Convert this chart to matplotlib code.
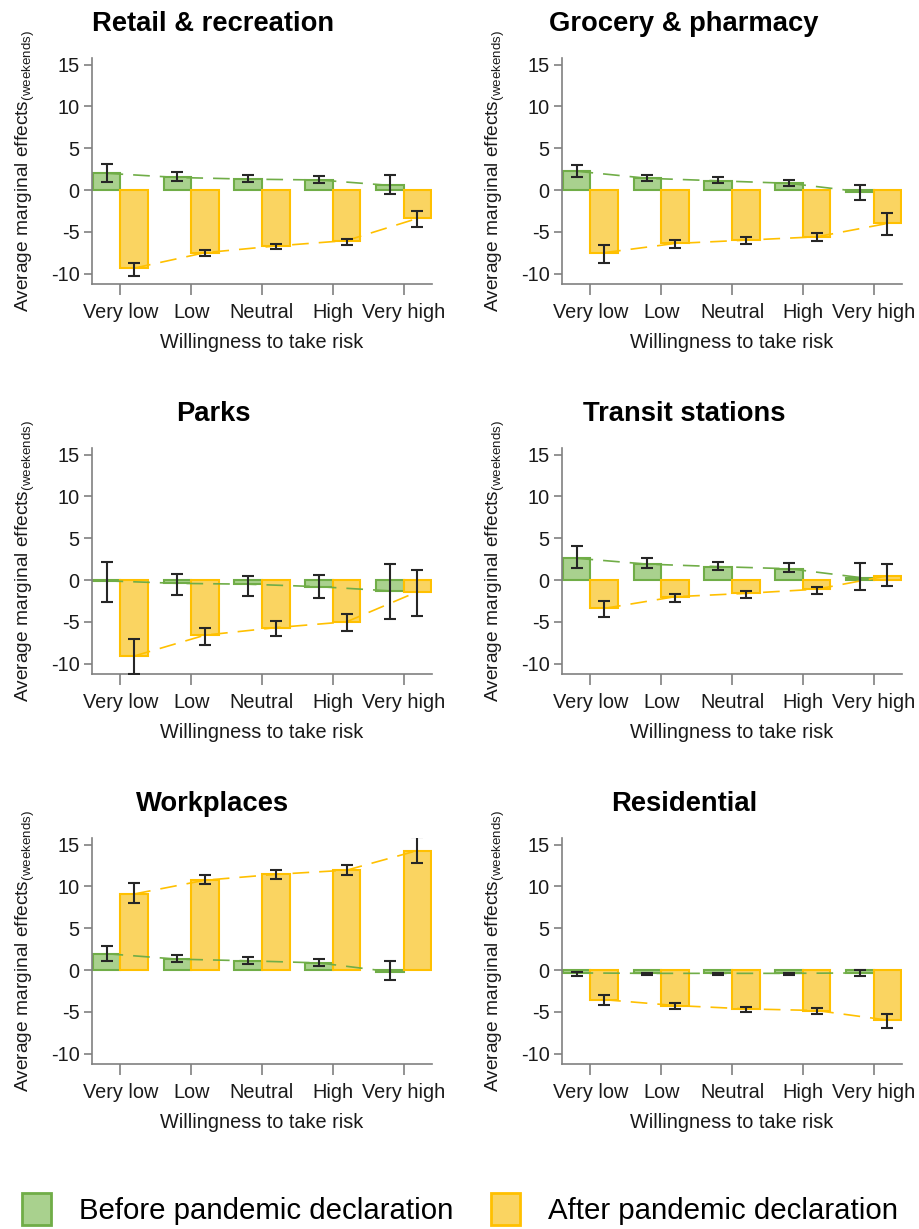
#!/usr/bin/env python3

import numpy as np
import matplotlib
matplotlib.use('Agg')
import matplotlib.pyplot as plt
from matplotlib.patches import Patch

plt.rcParams['font.family'] = ['Liberation Sans', 'DejaVu Sans']
plt.rcParams['mathtext.default'] = 'regular'
plt.rcParams['axes.unicode_minus'] = False

categories = ['Very low', 'Low', 'Neutral', 'High', 'Very high']
titles = ['Retail & recreation', 'Grocery & pharmacy', 'Parks',
          'Transit stations', 'Workplaces', 'Residential']

# before pandemic declaration: estimate, upper CI, lower CI
before_val = [
    [2.0, 1.5, 1.3, 1.2, 0.55],
    [2.25, 1.4, 1.1, 0.8, -0.2],
    [-0.1, -0.4, -0.5, -0.8, -1.3],
    [2.6, 1.9, 1.6, 1.35, 0.3],
    [1.95, 1.3, 1.1, 0.85, -0.2],
    [-0.35, -0.4, -0.4, -0.4, -0.35],
]
before_hi = [
    [3.07, 2.1, 1.8, 1.7, 1.85],
    [3.0, 1.85, 1.5, 1.25, 0.6],
    [2.2, 0.7, 0.5, 0.55, 1.95],
    [4.05, 2.6, 2.2, 2.0, 2.0],
    [2.9, 1.75, 1.5, 1.3, 1.1],
    [-0.2, -0.3, -0.3, -0.3, 0.0],
]
before_lo = [
    [1.0, 1.1, 1.0, 0.85, -0.5],
    [1.6, 1.1, 0.85, 0.5, -1.25],
    [-2.65, -1.8, -1.9, -2.2, -4.7],
    [1.4, 1.4, 1.15, 0.95, -1.2],
    [1.1, 0.9, 0.7, 0.5, -1.15],
    [-0.7, -0.55, -0.55, -0.55, -0.7],
]

# after pandemic declaration
after_val = [
    [-9.35, -7.5, -6.7, -6.05, -3.4],
    [-7.5, -6.4, -6.0, -5.6, -4.0],
    [-9.1, -6.6, -5.7, -5.0, -1.4],
    [-3.4, -2.0, -1.6, -1.1, 0.5],
    [9.1, 10.75, 11.45, 11.95, 14.3],
    [-3.55, -4.25, -4.65, -4.85, -6.0],
]
after_hi = [
    [-8.75, -7.2, -6.5, -5.85, -2.5],
    [-6.55, -6.0, -5.65, -5.2, -2.75],
    [-7.1, -5.8, -4.95, -4.05, 1.2],
    [-2.5, -1.7, -1.3, -0.85, 1.9],
    [10.4, 11.4, 11.95, 12.6, 15.9],
    [-3.0, -4.0, -4.4, -4.6, -5.25],
]
after_lo = [
    [-10.3, -7.9, -7.1, -6.55, -4.45],
    [-8.75, -7.0, -6.5, -6.15, -5.4],
    [-11.3, -7.75, -6.75, -6.05, -4.25],
    [-4.4, -2.6, -2.1, -1.7, -0.7],
    [8.0, 10.25, 10.95, 11.35, 12.85],
    [-4.2, -4.7, -5.0, -5.25, -6.9],
]

green_fill, green_edge = '#a9d18e', '#70ad47'
orange_fill, orange_edge = '#fad461', '#ffc000'
text_col = '#1a1a1a'
spine_col = '#808080'

W, H = 920, 1229
fig = plt.figure(figsize=(W / 100, H / 100), dpi=100)

col_left = [92, 562]
row_top = [58, 448, 838]
ax_w, ax_h = 340, 226
title_x = [213, 684]

x = np.arange(len(categories))
bw = 0.39
fs = 14.3

for i, title in enumerate(titles):
    r, c = divmod(i, 2)
    ax = fig.add_axes([col_left[c] / W, 1 - (row_top[r] + ax_h) / H, ax_w / W, ax_h / H])

    bv, av = np.array(before_val[i]), np.array(after_val[i])
    xb, xa = x - bw / 2, x + bw / 2

    ax.bar(xb, bv, width=bw, color=green_fill, edgecolor=green_edge, linewidth=1.5, zorder=2)
    ax.bar(xa, av, width=bw, color=orange_fill, edgecolor=orange_edge, linewidth=1.5, zorder=2)

    ax.plot(xb, bv, color=green_edge, lw=1.2, dashes=(10, 6), zorder=3)
    ax.plot(xa, av, color=orange_edge, lw=1.2, dashes=(10, 6), zorder=3)

    for xs, v, hi, lo in [(xb, bv, before_hi[i], before_lo[i]), (xa, av, after_hi[i], after_lo[i])]:
        hi, lo = np.array(hi), np.array(lo)
        ax.errorbar(xs, v, yerr=[v - lo, hi - v], fmt='none', ecolor='#262626',
                    elinewidth=1.5, capsize=4.5, capthick=1.5, zorder=4)

    ax.set_xlim(-0.4, 4.4)
    ax.set_ylim(-11.25, 15.8)
    ax.set_yticks([-10, -5, 0, 5, 10, 15])
    ax.set_xticks(x)
    ax.set_xticklabels(categories)

    for s in ['top', 'right']:
        ax.spines[s].set_visible(False)
    for s in ['left', 'bottom']:
        ax.spines[s].set_color(spine_col)
        ax.spines[s].set_linewidth(1.2)

    ax.tick_params(axis='y', length=6, width=1.2, color=spine_col, pad=3,
                   labelsize=fs, labelcolor=text_col)
    ax.tick_params(axis='x', length=8, width=1.2, color=spine_col, pad=6,
                   labelsize=fs, labelcolor=text_col)

    ax.set_xlabel('Willingness to take risk', fontsize=fs, color=text_col)
    ax.xaxis.set_label_coords(0.5, -0.215)
    ax.set_ylabel('Average marginal effects$_{(weekends)}$', fontsize=13.8, color=text_col)
    ax.yaxis.set_label_coords(-0.163, 0.5)

    fig.text(title_x[c] / W, 1 - (row_top[r] - 34) / H, title, ha='center', va='center',
             fontsize=19.7, fontweight='bold', color='black')

handles = [Patch(facecolor=green_fill, edgecolor=green_edge, linewidth=2),
           Patch(facecolor=orange_fill, edgecolor=orange_edge, linewidth=2)]
fig.legend(handles, ['Before pandemic declaration', 'After pandemic declaration'],
           loc='center', bbox_to_anchor=(0.5, 1 - 1209 / H), ncol=2, frameon=False,
           fontsize=21.2, handlelength=1.0, handleheight=1.27, handletextpad=0.94,
           columnspacing=1.27)

fig.savefig('out.png', dpi=100)
